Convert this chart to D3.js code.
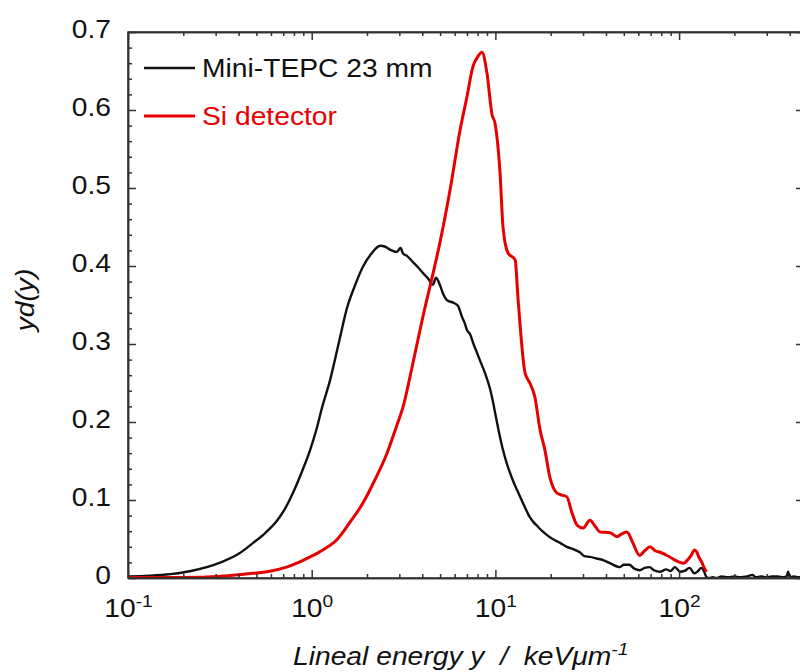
<!DOCTYPE html>
<html>
<head>
<meta charset="utf-8">
<script src="https://cdn.jsdelivr.net/npm/d3@7"></script>
<style>
  body { margin: 0; background: #fff; }
  svg text { font-family: "Liberation Sans", Arial, sans-serif; fill: #111; }
  .axis path, .axis line { stroke: #333; stroke-width: 1.5; }
</style>
</head>
<body>
<svg id="chart" width="800" height="672"></svg>
<script>
/*** DATA ***/

// Mini-TEPC 23 mm: lineal energy (keV/um) and yd(y)
const tepcY = [0.1, 0.13, 0.17, 0.22, 0.32, 0.4, 0.48, 0.56, 0.65, 0.72, 0.79, 0.88, 0.98, 1.06, 1.14, 1.26, 1.4, 1.56, 1.72, 1.9,
  2.1, 2.36, 2.5, 2.67, 2.9, 3.05, 3.14, 3.3, 3.56, 3.8, 4.03, 4.3, 4.57, 4.75, 5.0, 5.2, 5.46, 5.9, 6.25, 6.6,
  6.8, 7.0, 7.3, 7.6, 7.9, 8.24, 8.8, 9.34, 9.7, 10.0, 10.5, 11.0, 11.5, 12.0, 12.5, 13.1, 14.2, 15.4, 16.2, 17.0,
  18, 19.1, 20.5, 22.5, 24.5, 26.5, 28.8, 30.5, 32.8, 35.5, 38.6, 42, 47.6, 50, 53.6, 57, 61, 65, 69, 73,
  78.8, 85, 90, 95, 101, 107, 114, 121, 127, 132, 137, 141, 147, 152, 160, 170, 185, 200, 215, 235,
  252, 260, 280, 300, 320, 345, 370, 385, 392, 400, 420, 450, 480];
const tepcYd = [0.002, 0.003, 0.005, 0.009, 0.02, 0.031, 0.045, 0.058, 0.074, 0.09, 0.109, 0.135, 0.164, 0.19, 0.219, 0.254, 0.3, 0.347, 0.375, 0.399,
  0.415, 0.426, 0.425, 0.421, 0.418, 0.423, 0.416, 0.413, 0.405, 0.398, 0.391, 0.384, 0.376, 0.385, 0.375, 0.364, 0.356, 0.353, 0.349, 0.334,
  0.327, 0.318, 0.312, 0.300, 0.290, 0.279, 0.262, 0.243, 0.226, 0.21, 0.185, 0.164, 0.148, 0.135, 0.124, 0.113, 0.095, 0.078, 0.071, 0.066,
  0.06, 0.055, 0.05, 0.045, 0.040, 0.037, 0.033, 0.028, 0.027, 0.025, 0.023, 0.019, 0.014, 0.017, 0.017, 0.012, 0.010, 0.013, 0.014, 0.010,
  0.008, 0.011, 0.009, 0.014, 0.008, 0.009, 0.013, 0.006, 0.009, 0.013, 0.008, 0.001, 0.0, 0.001, 0.0, 0.002, 0.001, 0.002, 0.001, 0.002,
  0.004, 0.001, 0.002, 0.001, 0.002, 0.002, 0.001, 0.002, 0.008, 0.001, 0.002, 0.001, 0.002];

// Si detector
const siY = [0.1, 0.18, 0.256, 0.35, 0.48, 0.6, 0.73, 0.85, 0.98, 1.15, 1.37, 1.6, 1.9, 2.2, 2.57, 2.9, 3.14, 3.56, 4.03, 4.52,
  4.99, 5.66, 6.42, 7.0, 7.55, 8.0, 8.45, 9.0, 9.59, 9.95, 10.6, 11.0, 11.7, 12.8, 13.3, 14.5, 15.4, 16.4, 17.5, 18.6,
  19.8, 21.6, 22.5, 24.5, 26, 27.8, 30.0, 32.7, 35, 37.1, 42.1, 45.9, 49, 52, 56, 61, 65, 69.5, 74, 79,
  84, 89, 95, 101, 106, 112, 117, 121, 125, 128, 133, 137, 141];
const siYd = [0.0005, 0.0008, 0.001, 0.003, 0.006, 0.009, 0.014, 0.02, 0.027, 0.036, 0.049, 0.07, 0.096, 0.125, 0.16, 0.195, 0.219, 0.276, 0.335, 0.385,
  0.43, 0.497, 0.574, 0.617, 0.656, 0.668, 0.674, 0.647, 0.594, 0.583, 0.519, 0.45, 0.417, 0.408, 0.356, 0.263, 0.25, 0.232, 0.19, 0.164,
  0.129, 0.109, 0.107, 0.104, 0.085, 0.068, 0.064, 0.074, 0.066, 0.059, 0.058, 0.053, 0.057, 0.059, 0.045, 0.029, 0.035, 0.040, 0.035, 0.033,
  0.030, 0.027, 0.023, 0.020, 0.019, 0.024, 0.030, 0.036, 0.033, 0.027, 0.020, 0.013, 0.008];

const xTicks = [0.1, 1, 10, 100];
const xTickExp = ["-1", "0", "1", "2"];
const yTicks = [0, 0.1, 0.2, 0.3, 0.4, 0.5, 0.6, 0.7];

const seriesNames = ["Mini-TEPC 23 mm", "Si detector"];
const seriesColors = ["#111", "#e60000"];

/*** LAYOUT ***/

let svg = d3.select("#chart");

let margin = {top: 32, left: 128},
    plotRight = 804,
    plotBottom = 578,
    SX = 1.13;   // text in the reference is a bit wide

// x range is cut off at the right edge of the picture
let x = d3.scaleLog()
    .domain([0.1, Math.pow(10, (plotRight - margin.left) / 183.7 - 1)])
    .range([margin.left, plotRight]);
let y = d3.scaleLinear().domain([0, 0.7]).range([plotBottom, margin.top]);

// minor ticks
let xMinor = [];
for (let e = -1; e <= 2; e++)
    for (let k = 2; k <= 9; k++)
        if (k * Math.pow(10, e) < x.domain()[1]) xMinor.push(k * Math.pow(10, e));
let yMinor = d3.range(0, 0.701, 0.02).filter((d) => Math.abs(d * 10 - Math.round(d * 10)) > 0.01);

/*** AXES ***/

function render_axes() {
    // minor ticks first
    svg.append("g").classed("axis", true)
        .attr("transform", `translate(0, ${plotBottom})`)
        .call(d3.axisBottom(x).tickValues(xMinor).tickSizeInner(-4).tickSizeOuter(0).tickFormat(""));
    svg.append("g").classed("axis", true)
        .attr("transform", `translate(0, ${margin.top})`)
        .call(d3.axisTop(x).tickValues(xMinor).tickSizeInner(-4).tickSizeOuter(0).tickFormat(""));
    svg.append("g").classed("axis", true)
        .attr("transform", `translate(${margin.left}, 0)`)
        .call(d3.axisLeft(y).tickValues(yMinor).tickSizeInner(-4).tickSizeOuter(0).tickFormat(""));
    svg.append("g").classed("axis", true)
        .attr("transform", `translate(${plotRight}, 0)`)
        .call(d3.axisRight(y).tickValues(yMinor).tickSizeInner(-4).tickSizeOuter(0).tickFormat(""));

    // major ticks and labels
    let xb = svg.append("g").classed("axis", true)
        .attr("transform", `translate(0, ${plotBottom})`)
        .call(d3.axisBottom(x).tickValues(xTicks).tickSizeInner(-8).tickSizeOuter(0).tickPadding(21).tickFormat(""));
    xb.selectAll(".tick text")
        .attr("font-size", 25)
        .attr("transform", `scale(${SX},1)`)
        .each(function(d, i) {
            let t = d3.select(this);
            t.append("tspan").text("10");
            t.append("tspan").attr("font-size", 17).attr("dy", -10).text(xTickExp[i]);
        });

    svg.append("g").classed("axis", true)
        .attr("transform", `translate(0, ${margin.top})`)
        .call(d3.axisTop(x).tickValues(xTicks).tickSizeInner(-8).tickSizeOuter(0).tickFormat(""));

    let yl = svg.append("g").classed("axis", true)
        .attr("transform", `translate(${margin.left}, 0)`)
        .call(d3.axisLeft(y).tickValues(yTicks).tickSizeInner(-8).tickSizeOuter(0)
            .tickFormat((d) => d === 0 ? "0" : d3.format(".1f")(d)));
    yl.selectAll(".tick text")
        .attr("font-size", 25)
        .attr("x", -15)
        .attr("dy", "0.2em")
        .attr("transform", `scale(${SX},1)`);

    svg.append("g").classed("axis", true)
        .attr("transform", `translate(${plotRight}, 0)`)
        .call(d3.axisRight(y).tickValues(yTicks).tickSizeInner(-8).tickSizeOuter(0).tickFormat(""));

    // frame
    svg.append("rect")
        .attr("x", margin.left).attr("y", margin.top)
        .attr("width", plotRight - margin.left).attr("height", plotBottom - margin.top)
        .attr("fill", "none").attr("stroke", "#333").attr("stroke-width", 1.5);

    // axis titles
    let xt = svg.append("text")
        .attr("transform", `translate(293, 665) scale(${SX},1)`)
        .attr("font-size", 25)
        .attr("font-style", "italic")
        .style("white-space", "pre");
    xt.append("tspan").text("Lineal energy y  /  keV\u03BCm");
    xt.append("tspan").attr("font-size", 17).attr("dy", -10).text("-1");

    svg.append("text")
        .attr("transform", `translate(34, 300) rotate(-90) scale(${SX},1)`)
        .attr("text-anchor", "middle")
        .attr("font-size", 25)
        .attr("font-style", "italic")
        .text("yd(y)");
}

/*** CURVES ***/

function render_lines() {
    svg.append("clipPath").attr("id", "plot-clip")
        .append("rect")
        .attr("x", margin.left).attr("y", margin.top - 5)
        .attr("width", plotRight - margin.left).attr("height", plotBottom - margin.top + 5);

    let line = d3.line()
        .curve(d3.curveMonotoneX)
        .x((d) => x(d[0]))
        .y((d) => y(d[1]));

    let tepc = tepcY.map((v, i) => [v, tepcYd[i]]),
        si = siY.map((v, i) => [v, siYd[i]]);

    svg.append("path")
        .datum(tepc)
        .attr("clip-path", "url(#plot-clip)")
        .attr("fill", "none")
        .attr("stroke", seriesColors[0])
        .attr("stroke-width", 2.4)
        .attr("stroke-linejoin", "round")
        .attr("d", line);

    svg.append("path")
        .datum(si)
        .attr("clip-path", "url(#plot-clip)")
        .attr("fill", "none")
        .attr("stroke", seriesColors[1])
        .attr("stroke-width", 3)
        .attr("stroke-linejoin", "round")
        .attr("d", line);
}

/*** LEGEND ***/

function render_legend() {
    let rows = [68, 116];
    seriesNames.forEach((name, i) => {
        svg.append("line")
            .attr("x1", 144).attr("x2", 195)
            .attr("y1", rows[i]).attr("y2", rows[i])
            .attr("stroke", seriesColors[i])
            .attr("stroke-width", i === 0 ? 2.4 : 3);
        svg.append("text")
            .attr("transform", `translate(202, ${rows[i] + 9}) scale(${SX},1)`)
            .attr("font-size", 25)
            .style("fill", i === 0 ? "#111" : seriesColors[1])
            .text(name);
    });
}

render_lines();
render_axes();
render_legend();
</script>
</body>
</html>
